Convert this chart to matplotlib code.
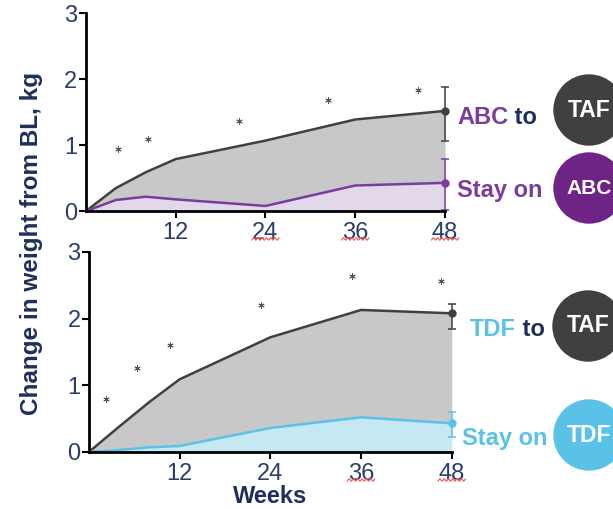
import numpy as np
import matplotlib.pyplot as plt
from matplotlib.patches import Circle
from matplotlib.transforms import blended_transform_factory

plt.rcParams['font.family'] = ['Liberation Sans', 'DejaVu Sans']

# Weight change from baseline (kg) by study week
weeks = [0, 4, 8, 12, 24, 36, 48]
abc_to_taf = [0, 0.35, 0.59, 0.79, 1.07, 1.39, 1.52]
stay_abc = [0, 0.17, 0.22, 0.18, 0.08, 0.39, 0.43]
tdf_to_taf = [0, 0.38, 0.75, 1.09, 1.72, 2.13, 2.08]
stay_tdf = [0, 0.03, 0.07, 0.09, 0.36, 0.52, 0.43]

# Week 48 error bars (lower, upper)
abc_taf_err = [0.46, 0.36]
stay_abc_err = [0.41, 0.36]
tdf_taf_err = [0.24, 0.14]
stay_tdf_err = [0.21, 0.17]

# Significance markers
abc_star_x = [4.3, 8.3, 20.5, 32.4, 44.4]
abc_star_y = [0.94, 1.10, 1.36, 1.69, 1.84]
tdf_star_x = [2.2, 6.4, 10.7, 22.7, 34.8, 46.6]
tdf_star_y = [0.79, 1.26, 1.60, 2.20, 2.64, 2.56]

xticks = [12, 24, 36, 48]
yticks = [0, 1, 2, 3]

NAVY = '#1f2f5c'
TICK_NAVY = '#2a3d6b'
DARK = '#404040'
GREY_FILL = '#c8c8c8'
PURPLE = '#7a3d9e'
PURPLE_FILL = '#e3d7ea'
PURPLE_DARK = '#6f2485'
BLUE = '#5bc2e7'
BLUE_FILL = '#c6e7f4'

fig = plt.figure(figsize=(6.13, 5.09), dpi=100)
ax1 = fig.add_axes([0.140, 0.585, 0.586, 0.389])
ax2 = fig.add_axes([0.145, 0.112, 0.592, 0.393])


def draw_panel(ax, top, bottom, top_err, bot_err, colour, fill, sx, sy, squiggles):
    ax.fill_between(weeks, bottom, top, color=GREY_FILL, lw=0)
    ax.fill_between(weeks, 0, bottom, color=fill, lw=0)
    ax.plot(weeks, top, color=DARK, lw=1.8)
    ax.plot(weeks, bottom, color=colour, lw=1.8)
    for val, err, c in [(top[-1], top_err, DARK), (bottom[-1], bot_err, colour)]:
        eb = ax.errorbar(weeks[-1], val, yerr=[[err[0]], [err[1]]], fmt='o',
                         color=c, ms=5, capsize=3, elinewidth=1.1, capthick=1.1)
        for artist in eb.get_children():
            artist.set_clip_on(False)
    ax.scatter(sx, sy, marker=(6, 2, 0), s=16, color='#555555', lw=0.7)

    ax.set_xlim(0, 48)
    ax.set_ylim(0, 3)
    ax.set_xticks(xticks)
    ax.set_yticks(yticks)
    for s in ['top', 'right']:
        ax.spines[s].set_visible(False)
    for s in ['left', 'bottom']:
        ax.spines[s].set_linewidth(2)
    ax.tick_params(axis='both', direction='out', length=5, width=1.5,
                   labelsize=17, labelcolor=TICK_NAVY, color='black')
    ax.tick_params(axis='x', pad=3)
    ax.tick_params(axis='y', pad=1)

    # spell-check underline under some tick labels
    tr = blended_transform_factory(ax.transData, ax.transAxes)
    t = np.linspace(-1.8, 1.8, 40)
    for w in squiggles:
        ax.plot(w + t, -0.14 + 0.006 * np.sin(t * 11), color='#f06060',
                lw=0.9, transform=tr, clip_on=False)


draw_panel(ax1, abc_to_taf, stay_abc, abc_taf_err, stay_abc_err, PURPLE,
           PURPLE_FILL, abc_star_x, abc_star_y, [24, 36, 48])
draw_panel(ax2, tdf_to_taf, stay_tdf, tdf_taf_err, stay_tdf_err, BLUE,
           BLUE_FILL, tdf_star_x, tdf_star_y, [36, 48])

# Overlay in pixel coordinates for labels and badges
ov = fig.add_axes([0, 0, 1, 1], zorder=-1)
ov.set_xlim(0, 613)
ov.set_ylim(509, 0)
ov.axis('off')
ov.patch.set_alpha(0)

badges = [(589, 110, DARK, 'TAF', 16.5), (589, 188, PURPLE_DARK, 'ABC', 15),
          (588, 326, DARK, 'TAF', 16.5), (589, 435, BLUE, 'TDF', 16.5)]
for cx, cy, c, lab, size in badges:
    ov.add_patch(Circle((cx, cy), 35, color=c, clip_on=False))
    ov.text(cx, cy, lab, color='white', fontsize=size, fontweight='bold',
            ha='center', va='center')

fs = 17
t1 = ov.text(457, 117, 'ABC', color=PURPLE, fontsize=fs, fontweight='bold', va='center')
ov.annotate(' to', xycoords=t1, xy=(1, 0.5), va='center', color=NAVY,
            fontsize=fs, fontweight='bold')
ov.text(457, 190, 'Stay on', color=PURPLE, fontsize=fs, fontweight='bold', va='center')
t2 = ov.text(470, 329, 'TDF', color=BLUE, fontsize=fs, fontweight='bold', va='center')
ov.annotate(' to', xycoords=t2, xy=(1, 0.5), va='center', color=NAVY,
            fontsize=fs, fontweight='bold')
ov.text(462, 439, 'Stay on', color=BLUE, fontsize=fs, fontweight='bold', va='center')

fig.text(0.052, 0.522, 'Change in weight from BL, kg', rotation=90, color=NAVY,
         fontsize=17.5, fontweight='bold', ha='center', va='center')
fig.text(0.44, 0.025, 'Weeks', color=NAVY, fontsize=17, fontweight='bold',
         ha='center', va='center')

fig.savefig('out.png', dpi=100)
